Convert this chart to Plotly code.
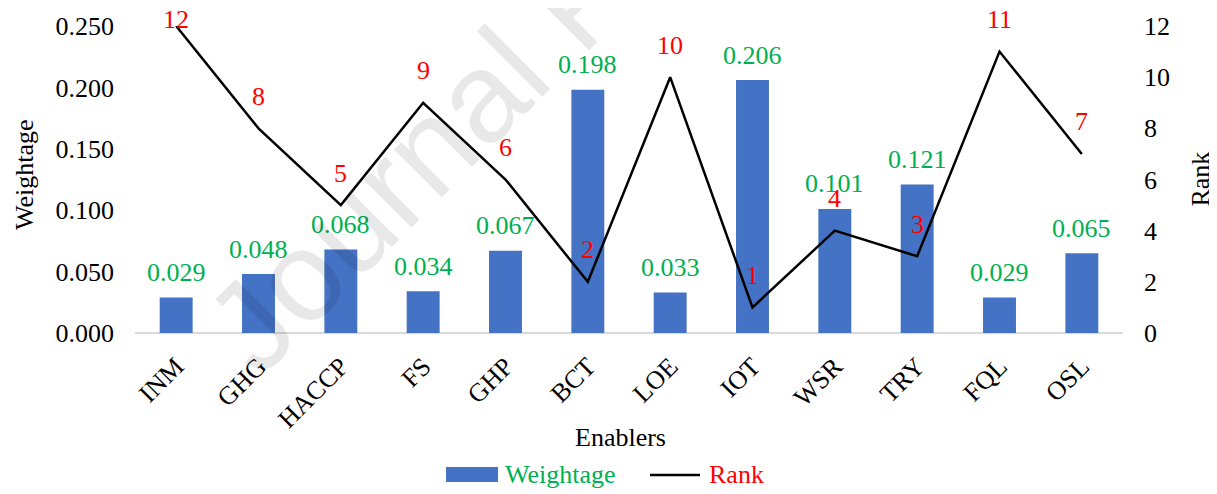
import plotly.graph_objects as go

categories = ["INM", "GHG", "HACCP", "FS", "GHP", "BCT", "LOE", "IOT", "WSR", "TRY", "FQL", "OSL"]
weightage = [0.029, 0.048, 0.068, 0.034, 0.067, 0.198, 0.033, 0.206, 0.101, 0.121, 0.029, 0.065]
rank = [12, 8, 5, 9, 6, 2, 10, 1, 4, 3, 11, 7]
y1_ticks = [0.0, 0.05, 0.10, 0.15, 0.20, 0.25]
y2_ticks = [0, 2, 4, 6, 8, 10, 12]

FONT = "Liberation Serif"
BLUE = "#4472C4"
GREEN = "#00B050"
RED = "#FF0000"

PLOT_H = 307
RANK_MAX = 12

fig = go.Figure()
fig.add_trace(go.Bar(x=categories, y=weightage, name="Weightage", marker=dict(color=BLUE, line=dict(width=0)),
                     width=0.4, yaxis="y", showlegend=False))
fig.add_trace(go.Scatter(x=categories, y=rank, name="Rank", mode="lines", line=dict(color="black", width=2.5),
                         yaxis="y2", showlegend=False))

ann = []
# bar value labels
for c, w in zip(categories, weightage):
    ann.append(dict(x=c, y=w, xref="x", yref="y", text=f"{w:.3f}", showarrow=False,
                    xanchor="center", yanchor="middle",
                    yshift=25, font=dict(family=FONT, size=26, color=GREEN)))
# rank labels (above the line, kept inside the top of the chart)
px_per_rank = PLOT_H / RANK_MAX
for c, r in zip(categories, rank):
    ann.append(dict(x=c, y=r, xref="x", yref="y2", text=str(r), showarrow=False,
                    xanchor="center", yanchor="middle",
                    yshift=min(1.25, RANK_MAX + 0.25 - r) * px_per_rank,
                    font=dict(family=FONT, size=26, color=RED)))


def label(x, y, text, color="black", angle=0, xanchor="center"):
    return dict(x=x, y=y, xref="paper", yref="paper", text=text, textangle=angle, showarrow=False,
                xanchor=xanchor, yanchor="middle", font=dict(family=FONT, size=26, color=color))


# axis titles
ann.append(label(-0.1113, 0.515, "Weightage", angle=-90))
ann.append(label(1.078, 0.50, "Rank", angle=-90))
ann.append(label(0.491, -0.342, "Enablers"))
# legend texts
ann.append(label(0.3725, -0.4625, "Weightage", color=GREEN, xanchor="left"))
ann.append(label(0.579, -0.4625, "Rank", color=RED, xanchor="left"))
# watermark
ann.append(dict(x=0.448, y=1.09, xref="paper", yref="paper", text="Journal Pre-proof", textangle=-45,
                showarrow=False, xanchor="center", yanchor="middle",
                font=dict(family="Liberation Sans", size=128, color="rgba(0,0,0,0.09)")))

shapes = [
    dict(type="rect", xref="paper", yref="paper", x0=0.3148, x1=0.3674, y0=-0.4853, y1=-0.4365,
         fillcolor=BLUE, line=dict(width=0)),
    dict(type="line", xref="paper", yref="paper", x0=0.5213, x1=0.5719, y0=-0.4625, y1=-0.4625,
         line=dict(color="black", width=2.5)),
]

fig.update_layout(
    width=1209, height=486,
    margin=dict(l=127, r=94, t=18, b=161, autoexpand=False),
    paper_bgcolor="white", plot_bgcolor="white",
    font=dict(family=FONT, size=26, color="black"),
    annotations=ann, shapes=shapes,
    xaxis=dict(showgrid=False, tickangle=-45, ticks="", showline=False, zeroline=False,
               ticklabelstandoff=12, tickfont=dict(family=FONT, size=26, color="black")),
    yaxis=dict(range=[0, 0.25], tickvals=y1_ticks, tickformat=".3f", showgrid=False,
               zeroline=True, zerolinecolor="#D9D9D9", zerolinewidth=2, showline=False, ticks="",
               ticklabelstandoff=20, tickfont=dict(family=FONT, size=26, color="black")),
    yaxis2=dict(range=[0, RANK_MAX], tickvals=y2_ticks, overlaying="y", side="right", showgrid=False,
                zeroline=False, showline=False, ticks="", ticklabelstandoff=20,
                tickfont=dict(family=FONT, size=26, color="black")),
    showlegend=False,
)

fig.write_html("out.html")
